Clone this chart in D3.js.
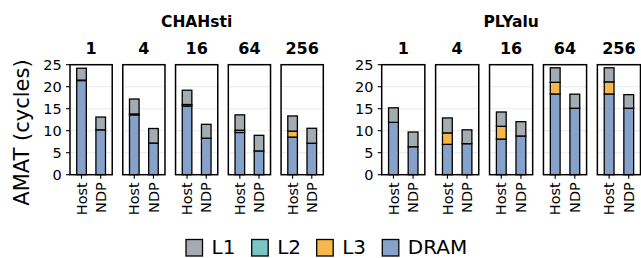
<!DOCTYPE html>
<html>
<head>
<meta charset="utf-8">
<script src="https://cdn.jsdelivr.net/npm/d3@7"></script>
<style>
  body { margin: 0; background: #fff; }
  svg { display: block; font-family: "DejaVu Sans", sans-serif; }
</style>
</head>
<body>
<div id="chart"></div>
<script>
// data
var threads = ["1", "4", "16", "64", "256"];
var systems = ["Host", "NDP"];
var levels = ["L1", "L2", "L3", "DRAM"];
var yTicks = [0, 5, 10, 15, 20, 25];

// [thread][Host, NDP]
var chahstiL1   = [[2.7, 2.9], [3.4, 3.3], [3.25, 3.15], [3.5, 3.55], [3.45, 3.4]];
var chahstiL2   = [[0, 0], [0, 0], [0, 0], [0, 0], [0, 0]];
var chahstiL3   = [[0.1, 0], [0.2, 0], [0.35, 0], [0.5, 0], [1.35, 0]];
var chahstiDRAM = [[21.4, 10.2], [13.6, 7.2], [15.6, 8.3], [9.6, 5.4], [8.55, 7.15]];

var plyaluL1   = [[3.3, 3.35], [3.4, 3.15], [3.25, 3.25], [3.3, 3.2], [3.2, 3.1]];
var plyaluL2   = [[0, 0], [0, 0], [0, 0], [0, 0], [0, 0]];
var plyaluL3   = [[0, 0], [2.6, 0], [2.9, 0], [2.65, 0], [2.75, 0]];
var plyaluDRAM = [[11.9, 6.35], [6.9, 7.05], [8.1, 8.8], [18.35, 15.1], [18.35, 15.1]];

var colors = {L1: "#a4abb1", L2: "#7cc5c4", L3: "#f6b84b", DRAM: "#87a2ca"};

var width = 641, height = 258;
var svg = d3.select("#chart").append("svg")
    .attr("width", width)
    .attr("height", height);

var y = d3.scaleLinear().domain([0, 25]).range([174.7, 64.7]);

function rows(l1, l2, l3, dram) {
  var out = [];
  threads.forEach(function(t, i) {
    systems.forEach(function(s, j) {
      out.push({thread: t, system: s, L1: l1[i][j], L2: l2[i][j], L3: l3[i][j], DRAM: dram[i][j]});
    });
  });
  return out;
}

var stack = d3.stack().keys(["DRAM", "L3", "L2", "L1"]);

function drawPlot(title, data, x0, x1) {
  var g = svg.append("g");
  var fx = d3.scaleBand().domain(threads).range([x0, x1]).paddingInner(0.2);
  var bw = fx.bandwidth();
  var sx = d3.scalePoint().domain(systems).range([0, bw]).padding(0.6);
  var barW = sx.step() * 0.5;

  g.append("text")
    .attr("x", (x0 + x1) / 2).attr("y", 27.3)
    .attr("text-anchor", "middle")
    .style("font-size", "15.5px").style("font-weight", "bold")
    .text(title);

  var series = stack(data);

  threads.forEach(function(t) {
    var p = g.append("g").attr("transform", "translate(" + fx(t) + ",0)");

    p.append("text")
      .attr("x", bw / 2).attr("y", 54.3)
      .attr("text-anchor", "middle")
      .style("font-size", "16px").style("font-weight", "bold")
      .text(t);

    p.selectAll(".grid")
      .data(yTicks.slice(1, -1))
      .enter().append("line")
      .attr("x1", 0).attr("x2", bw)
      .attr("y1", function(d) { return y(d); })
      .attr("y2", function(d) { return y(d); })
      .attr("stroke", "#ebebeb").attr("stroke-width", 1.1);

    series.forEach(function(s) {
      p.selectAll(null)
        .data(s.filter(function(d) { return d.data.thread === t && d[1] - d[0] > 0; }))
        .enter().append("rect")
        .attr("x", function(d) { return sx(d.data.system) - barW / 2; })
        .attr("width", barW)
        .attr("y", function(d) { return y(d[1]); })
        .attr("height", function(d) { return y(d[0]) - y(d[1]); })
        .attr("fill", colors[s.key])
        .attr("stroke", "#000").attr("stroke-width", 1.3);
    });

    p.append("rect")
      .attr("x", 0).attr("y", y(25))
      .attr("width", bw).attr("height", y(0) - y(25))
      .attr("fill", "none").attr("stroke", "#000").attr("stroke-width", 1.5);

    // x ticks and labels
    systems.forEach(function(s) {
      p.append("line")
        .attr("x1", sx(s)).attr("x2", sx(s))
        .attr("y1", y(0)).attr("y2", y(0) + 4)
        .attr("stroke", "#000").attr("stroke-width", 1.1);
      p.append("text")
        .attr("transform", "translate(" + (sx(s) + 5.2) + "," + (y(0) + 7.5) + ") rotate(-90)")
        .attr("text-anchor", "end")
        .style("font-size", "14.5px")
        .text(s);
    });
  });

  // y axis
  var ax = g.append("g").attr("transform", "translate(" + x0 + ",0)");
  yTicks.forEach(function(v) {
    ax.append("line")
      .attr("x1", -4).attr("x2", 0)
      .attr("y1", y(v)).attr("y2", y(v))
      .attr("stroke", "#000").attr("stroke-width", 1.1);
    ax.append("text")
      .attr("x", -8.3).attr("y", y(v) + 5.3)
      .attr("text-anchor", "end")
      .style("font-size", "14.5px")
      .text(v);
  });
}

drawPlot("CHAHsti", rows(chahstiL1, chahstiL2, chahstiL3, chahstiDRAM), 70, 323.3);
drawPlot("PLYalu", rows(plyaluL1, plyaluL2, plyaluL3, plyaluDRAM), 381.7, 640.5);

svg.append("text")
  .attr("transform", "translate(28.5,132.5) rotate(-90)")
  .attr("text-anchor", "middle")
  .style("font-size", "21px")
  .text("AMAT (cycles)");

// legend
var legX = [186, 251.7, 316.7, 382.3];
var leg = svg.selectAll(".leg")
  .data(levels)
  .enter().append("g")
  .attr("transform", function(d, i) { return "translate(" + legX[i] + ",239.5)"; });
leg.append("rect")
  .attr("width", 16.5).attr("height", 16.5)
  .attr("fill", function(d) { return colors[d]; })
  .attr("stroke", "#000").attr("stroke-width", 1.3);
leg.append("text")
  .attr("x", 25.5).attr("y", 14)
  .style("font-size", "20px")
  .text(function(d) { return d; });
</script>
</body>
</html>
